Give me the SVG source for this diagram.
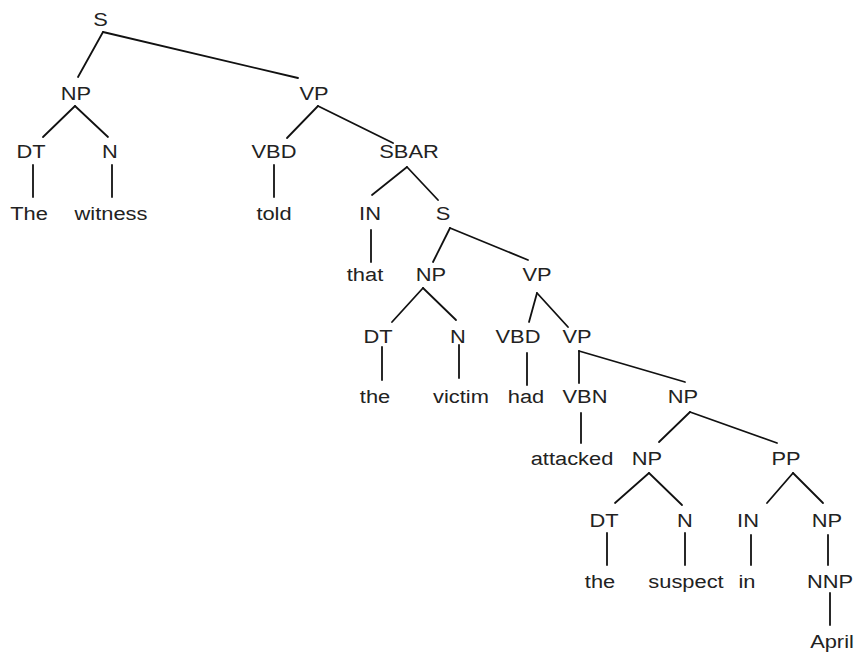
<svg xmlns="http://www.w3.org/2000/svg" width="858" height="655" viewBox="0 0 858 655">
<style>
.lbl{font-family:"Liberation Sans",Arial,sans-serif;font-size:19px;fill:#222;text-anchor:middle}
.edges line{stroke:#111;stroke-width:1.8;stroke-linecap:round}
</style>
<rect width="858" height="655" fill="#fff"/>
<g id="connectors" class="edges">
<line x1="103" y1="32" x2="78" y2="77"/>
<line x1="103" y1="32" x2="298" y2="78"/>
<line x1="75" y1="106" x2="43" y2="137"/>
<line x1="75" y1="106" x2="108" y2="137"/>
<line x1="33" y1="165" x2="33" y2="197"/>
<line x1="112" y1="165" x2="112" y2="197"/>
<line x1="318" y1="106" x2="287" y2="138"/>
<line x1="318" y1="106" x2="393" y2="143"/>
<line x1="274" y1="165" x2="274" y2="197"/>
<line x1="407" y1="167" x2="372" y2="195"/>
<line x1="407" y1="167" x2="438" y2="200"/>
<line x1="371" y1="230" x2="371" y2="262"/>
<line x1="450" y1="228" x2="433" y2="262"/>
<line x1="450" y1="228" x2="528" y2="260"/>
<line x1="423" y1="288" x2="392" y2="322"/>
<line x1="423" y1="288" x2="456" y2="320"/>
<line x1="537" y1="293" x2="529" y2="322"/>
<line x1="537" y1="293" x2="568" y2="327"/>
<line x1="382" y1="347" x2="382" y2="380"/>
<line x1="459" y1="345" x2="459" y2="378"/>
<line x1="527" y1="353" x2="527" y2="385"/>
<line x1="579" y1="351" x2="579" y2="383"/>
<line x1="579" y1="351" x2="685" y2="382"/>
<line x1="581" y1="413" x2="581" y2="443"/>
<line x1="690" y1="412" x2="659" y2="442"/>
<line x1="690" y1="412" x2="777" y2="443"/>
<line x1="649" y1="473" x2="615" y2="503"/>
<line x1="649" y1="473" x2="682" y2="505"/>
<line x1="607" y1="533" x2="607" y2="565"/>
<line x1="685" y1="533" x2="685" y2="565"/>
<line x1="793" y1="473" x2="767" y2="503"/>
<line x1="793" y1="473" x2="823" y2="503"/>
<line x1="751" y1="535" x2="751" y2="565"/>
<line x1="828" y1="535" x2="828" y2="565"/>
<line x1="830" y1="593" x2="830" y2="625"/>
</g>
<g id="n0"><text class="lbl" transform="translate(100.5,26) scale(1.15,1)">S</text></g>
<g id="n1"><text class="lbl" transform="translate(76,100) scale(1.15,1)">NP</text></g>
<g id="n2"><text class="lbl" transform="translate(314,100) scale(1.15,1)">VP</text></g>
<g id="n3"><text class="lbl" transform="translate(31,158) scale(1.15,1)">DT</text></g>
<g id="n4"><text class="lbl" transform="translate(110,158) scale(1.15,1)">N</text></g>
<g id="n5"><text class="lbl" transform="translate(29,220) scale(1.15,1)">The</text></g>
<g id="n6"><text class="lbl" transform="translate(111,220) scale(1.15,1)">witness</text></g>
<g id="n7"><text class="lbl" transform="translate(274,158) scale(1.15,1)">VBD</text></g>
<g id="n8"><text class="lbl" transform="translate(409,158) scale(1.15,1)">SBAR</text></g>
<g id="n9"><text class="lbl" transform="translate(274,220) scale(1.15,1)">told</text></g>
<g id="n10"><text class="lbl" transform="translate(370,220) scale(1.15,1)">IN</text></g>
<g id="n11"><text class="lbl" transform="translate(443,220) scale(1.15,1)">S</text></g>
<g id="n12"><text class="lbl" transform="translate(365,281) scale(1.15,1)">that</text></g>
<g id="n13"><text class="lbl" transform="translate(431,281) scale(1.15,1)">NP</text></g>
<g id="n14"><text class="lbl" transform="translate(537,281) scale(1.15,1)">VP</text></g>
<g id="n15"><text class="lbl" transform="translate(378,343) scale(1.15,1)">DT</text></g>
<g id="n16"><text class="lbl" transform="translate(458,343) scale(1.15,1)">N</text></g>
<g id="n17"><text class="lbl" transform="translate(518,343) scale(1.15,1)">VBD</text></g>
<g id="n18"><text class="lbl" transform="translate(577,343) scale(1.15,1)">VP</text></g>
<g id="n19"><text class="lbl" transform="translate(375,403) scale(1.15,1)">the</text></g>
<g id="n20"><text class="lbl" transform="translate(461,403) scale(1.15,1)">victim</text></g>
<g id="n21"><text class="lbl" transform="translate(526,403) scale(1.15,1)">had</text></g>
<g id="n22"><text class="lbl" transform="translate(585,403) scale(1.15,1)">VBN</text></g>
<g id="n23"><text class="lbl" transform="translate(683,403) scale(1.15,1)">NP</text></g>
<g id="n24"><text class="lbl" transform="translate(572,465) scale(1.15,1)">attacked</text></g>
<g id="n25"><text class="lbl" transform="translate(647,465) scale(1.15,1)">NP</text></g>
<g id="n26"><text class="lbl" transform="translate(786,465) scale(1.15,1)">PP</text></g>
<g id="n27"><text class="lbl" transform="translate(604,527) scale(1.15,1)">DT</text></g>
<g id="n28"><text class="lbl" transform="translate(685,527) scale(1.15,1)">N</text></g>
<g id="n29"><text class="lbl" transform="translate(748,527) scale(1.15,1)">IN</text></g>
<g id="n30"><text class="lbl" transform="translate(827,527) scale(1.15,1)">NP</text></g>
<g id="n31"><text class="lbl" transform="translate(600,588) scale(1.15,1)">the</text></g>
<g id="n32"><text class="lbl" transform="translate(686,588) scale(1.15,1)">suspect</text></g>
<g id="n33"><text class="lbl" transform="translate(747,588) scale(1.15,1)">in</text></g>
<g id="n34"><text class="lbl" transform="translate(830,588) scale(1.15,1)">NNP</text></g>
<g id="n35"><text class="lbl" transform="translate(832,648) scale(1.15,1)">April</text></g>
</svg>
